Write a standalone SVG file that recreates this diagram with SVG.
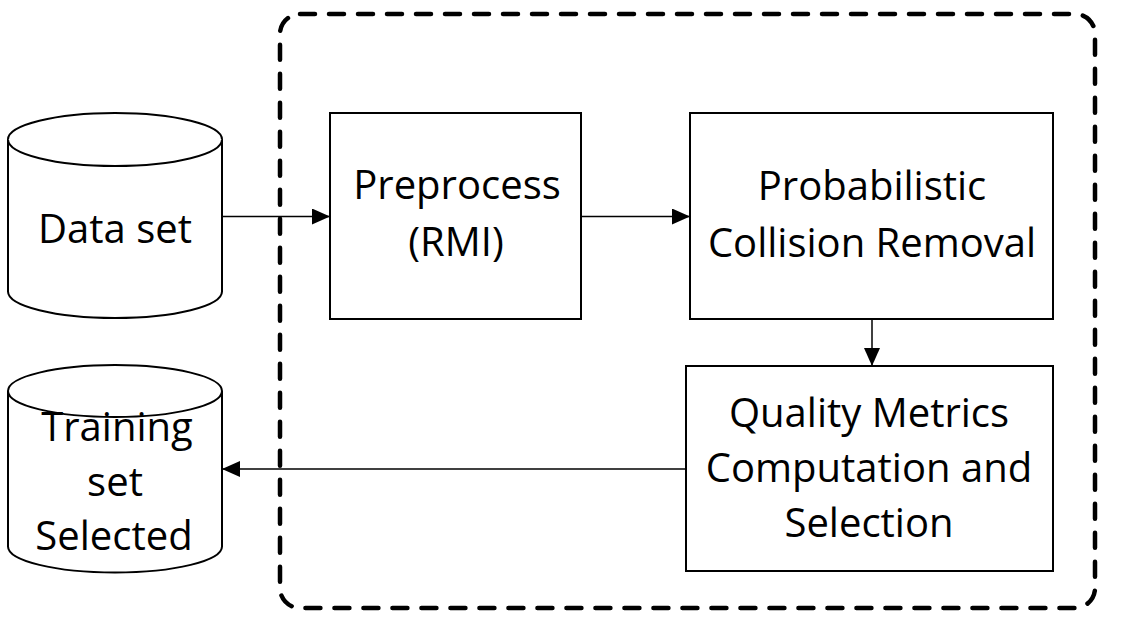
<svg xmlns="http://www.w3.org/2000/svg" width="1132" height="633" viewBox="0 0 1132 633">
<style>
.box{fill:#fff;stroke:#000;stroke-width:2}
.cyl{fill:#fff;stroke:#000;stroke-width:2}
.lbl{font-family:"Open Sans","Liberation Sans",sans-serif;font-size:40px;fill:#000;text-anchor:middle}
.conn{fill:none;stroke:#000;stroke-width:1.5}
.frame{fill:none;stroke:#000;stroke-width:4.5;stroke-dasharray:15 14;stroke-linecap:round}
</style>
<defs>
<marker id="arrow" viewBox="0 0 18 16" refX="18" refY="8" markerWidth="18" markerHeight="16" markerUnits="userSpaceOnUse" orient="auto">
<path d="M0,0 L18,8 L0,16 Z" fill="#000"/>
</marker>
</defs>
<rect width="1132" height="633" fill="#fff"/>
<g id="frame">
<rect class="frame" x="280" y="14" width="815" height="594" rx="20" ry="20"/>
</g>
<g id="dataset">
<path class="cyl" d="M8,139.5 A107,26.5 0 0 1 222,139.5 V291.5 A107,26.5 0 0 1 8,291.5 Z"/>
<path class="cyl" fill="none" d="M8,139.5 A107,26.5 0 0 0 222,139.5"/>
<text class="lbl" x="115" y="243">Data set</text>
</g>
<g id="training">
<path class="cyl" d="M8,391 A107,26 0 0 1 222,391 V546.5 A107,26 0 0 1 8,546.5 Z"/>
<path class="cyl" fill="none" d="M8,391 A107,26 0 0 0 222,391"/>
<text class="lbl" x="117" y="441">Training</text>
<text class="lbl" x="115" y="496">set</text>
<text class="lbl" x="114" y="550">Selected</text>
</g>
<g id="preprocess">
<rect class="box" x="330" y="113" width="251" height="206"/>
<text class="lbl" x="457" y="199">Preprocess</text>
<text class="lbl" x="456" y="256">(RMI)</text>
</g>
<g id="probabilistic">
<rect class="box" x="690" y="113" width="363" height="206"/>
<text class="lbl" x="872" y="200">Probabilistic</text>
<text class="lbl" x="872" y="257">Collision Removal</text>
</g>
<g id="quality">
<rect class="box" x="686" y="366" width="367" height="205"/>
<text class="lbl" x="869" y="427">Quality Metrics</text>
<text class="lbl" x="869" y="482">Computation and</text>
<text class="lbl" x="869" y="537">Selection</text>
</g>
<g id="connectors">
<path class="conn" d="M222,216.5 H330" marker-end="url(#arrow)"/>
<path class="conn" d="M581,216.5 H690" marker-end="url(#arrow)"/>
<path class="conn" d="M872,319 V366" marker-end="url(#arrow)"/>
<path class="conn" d="M686,469 H222" marker-end="url(#arrow)"/>
</g>
</svg>
